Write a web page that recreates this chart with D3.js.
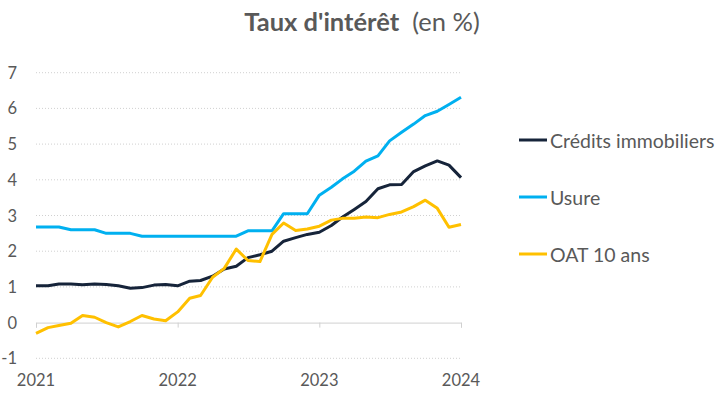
<!DOCTYPE html>
<html>
<head>
<meta charset="utf-8">
<script src="https://cdn.jsdelivr.net/npm/d3@7.9.0/dist/d3.min.js"></script>
<style>
  body { margin: 0; background: #fff; }
  svg { display: block; font-family: Lato, "Open Sans", sans-serif; }
</style>
</head>
<body>
<svg id="chart" width="723" height="393"></svg>
<script>
// monthly points, Jan 2021 -> Jan 2024
const months = d3.timeMonth.range(new Date(2021, 0, 1), new Date(2024, 0, 2));
const yearTicks = [2021, 2022, 2023, 2024];
const yTicks = [-1, 0, 1, 2, 3, 4, 5, 6, 7];

const credits = [1.03, 1.03, 1.08, 1.08, 1.06, 1.08, 1.07, 1.03, 0.96, 0.98, 1.05, 1.07,
  1.03, 1.16, 1.18, 1.30, 1.50, 1.58, 1.82, 1.90, 2.00, 2.28, 2.38, 2.47,
  2.53, 2.72, 2.95, 3.17, 3.39, 3.75, 3.86, 3.87, 4.23, 4.39, 4.53, 4.41, 4.06];
const usure = [2.68, 2.68, 2.68, 2.60, 2.60, 2.60, 2.50, 2.50, 2.50, 2.42, 2.42, 2.42,
  2.42, 2.42, 2.42, 2.42, 2.42, 2.42, 2.57, 2.57, 2.57, 3.05, 3.05, 3.05,
  3.57, 3.79, 4.02, 4.24, 4.52, 4.67, 5.09, 5.33, 5.56, 5.80, 5.92, 6.11, 6.31];
const oat = [-0.30, -0.14, -0.08, -0.02, 0.20, 0.15, 0.00, -0.12, 0.03, 0.20, 0.10, 0.05,
  0.30, 0.68, 0.76, 1.27, 1.52, 2.06, 1.74, 1.71, 2.47, 2.79, 2.58, 2.62,
  2.70, 2.87, 2.92, 2.92, 2.96, 2.94, 3.03, 3.10, 3.25, 3.43, 3.20, 2.67, 2.75];

const series = [
  { name: 'Crédits immobiliers', values: credits, color: '#16243a' },
  { name: 'Usure', values: usure, color: '#00b0f0' },
  { name: 'OAT 10 ans', values: oat, color: '#ffc000' },
];

const svg = d3.select('#chart');
const textColor = '#595959';

const x = d3.scaleTime()
  .domain([new Date(2021, 0, 1), new Date(2024, 0, 1)])
  .range([36, 461]);
const y = d3.scaleLinear().domain([-1, 7]).range([358.3, 72.7]);

// title
const title = svg.append('text')
  .attr('x', 362).attr('y', 31)
  .attr('text-anchor', 'middle')
  .attr('fill', textColor)
  .attr('font-size', 25.5);
title.append('tspan').attr('font-weight', 'bold').text("Taux d'intérêt");
title.append('tspan').text('\u00a0 (en %)');

// gridlines (dotted), zero line solid
svg.append('g')
  .selectAll('line')
  .data(yTicks.filter((d) => d !== 0))
  .join('line')
  .attr('x1', x.range()[0]).attr('x2', x.range()[1])
  .attr('y1', (d) => y(d)).attr('y2', (d) => y(d))
  .attr('stroke', '#d0d0d0')
  .attr('stroke-width', 1)
  .attr('stroke-dasharray', '1,2');

const xAxis = d3.axisBottom(x)
  .tickValues(yearTicks.map((yr) => new Date(yr, 0, 1)))
  .tickSize(5)
  .tickFormat('');
const gx = svg.append('g')
  .attr('transform', `translate(0,${y(0)})`)
  .call(xAxis);
gx.select('.domain').attr('stroke', '#d0d0d0');
gx.selectAll('.tick line').attr('stroke', '#d0d0d0');

// year labels sit below the plot
svg.append('g')
  .selectAll('text')
  .data(yearTicks)
  .join('text')
  .attr('x', (d) => x(new Date(d, 0, 1)))
  .attr('y', 380)
  .attr('text-anchor', 'middle')
  .attr('dominant-baseline', 'central')
  .attr('fill', textColor)
  .attr('font-size', 16.5)
  .text((d) => d);

svg.append('g')
  .selectAll('text')
  .data(yTicks)
  .join('text')
  .attr('x', 17)
  .attr('y', (d) => y(d))
  .attr('text-anchor', 'end')
  .attr('dominant-baseline', 'central')
  .attr('fill', textColor)
  .attr('font-size', 16.5)
  .text((d) => d);

const line = d3.line()
  .x((d, i) => x(months[i]))
  .y((d) => y(d));

svg.append('g')
  .selectAll('path')
  .data(series)
  .join('path')
  .attr('d', (d) => line(d.values))
  .attr('fill', 'none')
  .attr('stroke', (d) => d.color)
  .attr('stroke-width', 3)
  .attr('stroke-linejoin', 'round');

// legend
const legend = svg.append('g')
  .selectAll('g')
  .data(series)
  .join('g')
  .attr('transform', (d, i) => `translate(519,${140 + i * 57})`);
legend.append('line')
  .attr('x1', 0).attr('x2', 28)
  .attr('stroke', (d) => d.color)
  .attr('stroke-width', 3);
legend.append('text')
  .attr('x', 31)
  .attr('dominant-baseline', 'central')
  .attr('fill', textColor)
  .attr('font-size', 19.5)
  .text((d) => d.name);
</script>
</body>
</html>
